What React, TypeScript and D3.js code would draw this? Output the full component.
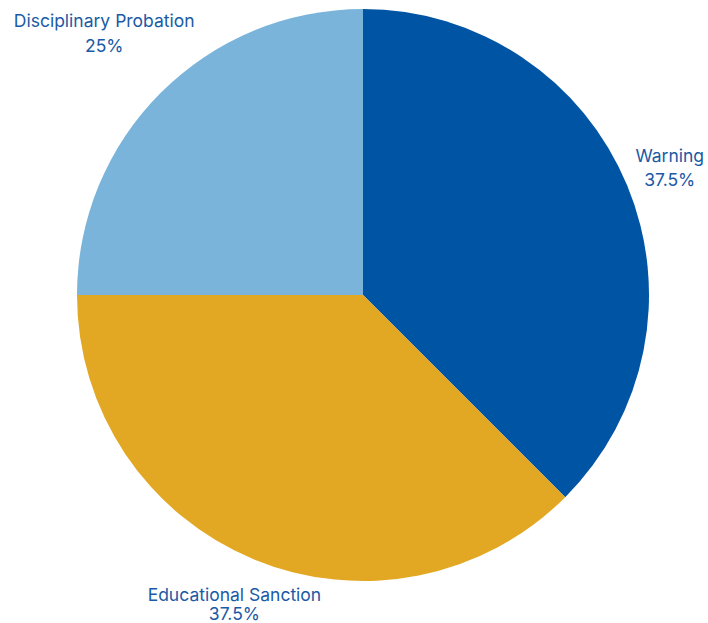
import React from "react";
import * as d3 from "d3";

const categories = ["Warning", "Educational Sanction", "Disciplinary Probation"];
const values = [37.5, 37.5, 25];
const percentLabels = ["37.5%", "37.5%", "25%"];
const colors = ["#0054a4", "#e3a823", "#7ab4da"];

const W = 708;
const H = 623;
const cx = 363;
const cy = 295;
const R = 286;
const labelRadii = [332, 336, 366];
const firstDy = [-6, -4, -9];
const secondDy = [24, 19, 25];

export default function App() {
  const pie = d3.pie<number>().sort(null).value((d) => d)(values);
  const arc = d3.arc<d3.PieArcDatum<number>>().innerRadius(0).outerRadius(R);
  return (
    <div style={{ position: "fixed", left: 0, top: 0 }}>
      <svg width={W} height={H} style={{ display: "block", background: "#fff" }}>
        <g transform={`translate(${cx},${cy})`}>
          {pie.map((p, i) => (
            <path key={i} d={arc(p) || ""} fill={colors[i]} />
          ))}
          {pie.map((p, i) => {
            const mid = (p.startAngle + p.endAngle) / 2;
            const lr = labelRadii[i];
            const x = Math.sin(mid) * lr;
            const y = -Math.cos(mid) * lr;
            return (
              <text
                key={"t" + i}
                x={x}
                y={y}
                textAnchor="middle"
                fill="#1a5aa6"
                fontFamily="Inter, 'Open Sans', sans-serif"
                fontSize={17.5}
              >
                <tspan x={x} dy={firstDy[i]}>{categories[i]}</tspan>
                <tspan x={x} dy={secondDy[i]}>{percentLabels[i]}</tspan>
              </text>
            );
          })}
        </g>
      </svg>
    </div>
  );
}
